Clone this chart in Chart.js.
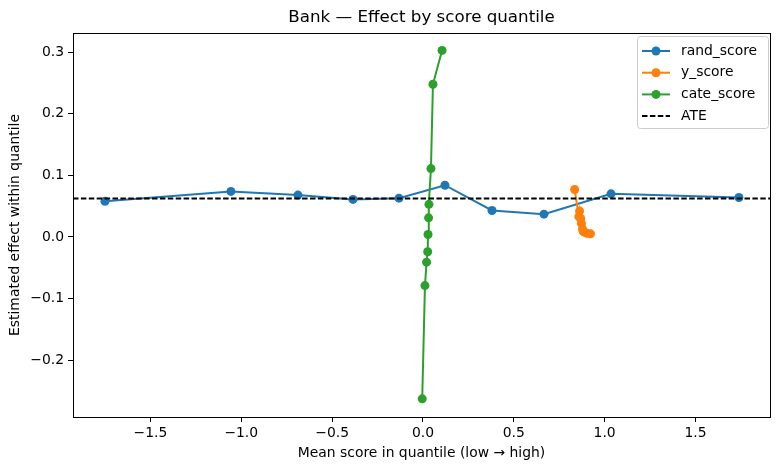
<!DOCTYPE html>
<html>
<head>
<meta charset="utf-8">
<script src="https://cdn.jsdelivr.net/npm/chart.js@4.4.1/dist/chart.umd.min.js"></script>
<style>
    body { margin: 0; background: #fff; }
    canvas { display: block; }
</style>
</head>
<body>
<canvas id="grafico" width="780" height="470"></canvas>
<script>
// valores
const randX = [-1.75, -1.057, -0.688, -0.385, -0.132, 0.121, 0.38, 0.666, 1.035, 1.739];
const randY = [0.058, 0.074, 0.068, 0.061, 0.063, 0.084, 0.043, 0.037, 0.070, 0.064];

const yScoreX = [0.835, 0.858, 0.862, 0.868, 0.872, 0.878, 0.882, 0.888, 0.902, 0.922];
const yScoreY = [0.077, 0.033, 0.042, 0.030, 0.022, 0.013, 0.009, 0.008, 0.006, 0.005];

const cateX = [-0.004, 0.011, 0.020, 0.026, 0.028, 0.031, 0.033, 0.044, 0.055, 0.105];
const cateY = [-0.263, -0.079, -0.041, -0.024, 0.004, 0.031, 0.053, 0.111, 0.248, 0.303];

const ateValue = 0.0625;

const xTicks = [-1.5, -1.0, -0.5, 0.0, 0.5, 1.0, 1.5];
const yTicks = [-0.2, -0.1, 0.0, 0.1, 0.2, 0.3];

const xMin = -1.926, xMax = 1.910;
const yMin = -0.2925, yMax = 0.3313;

const titulo = 'Bank \u2014 Effect by score quantile';
const fuente = 'DejaVu Sans';
const radio = 4.5;

function puntos(xs, ys) {
    return xs.map((x, i) => ({x: x, y: ys[i]}));
}

function etiqueta(v) {
    const s = Math.abs(v).toFixed(1);
    return v < -1e-9 ? '\u2212' + s : s;
}

function serie(label, xs, ys, color, orden) {
    return {
        label: label,
        data: puntos(xs, ys),
        showLine: true,
        borderColor: color,
        backgroundColor: color,
        borderWidth: 2,
        pointRadius: radio,
        pointHoverRadius: radio,
        pointBorderWidth: 0,
        order: orden
    };
}

// titulo centrado en el area, marco completo y leyenda al estilo matplotlib
const marcoYLeyenda = {
    id: 'marcoYLeyenda',
    afterDraw(chart) {
        const ctx = chart.ctx;
        const a = chart.chartArea;
        ctx.save();
        ctx.fillStyle = '#000';
        ctx.font = '16.7px "' + fuente + '"';
        ctx.textAlign = 'center';
        ctx.textBaseline = 'middle';
        ctx.fillText(titulo, (a.left + a.right) / 2, 18);

        ctx.strokeStyle = '#000';
        ctx.lineWidth = 1;
        ctx.strokeRect(Math.round(a.left) + 0.5, Math.round(a.top) + 0.5,
            Math.round(a.right - a.left), Math.round(a.bottom - a.top));

        const bx = 637, by = 36, bw = 131, bh = 92;
        ctx.beginPath();
        ctx.roundRect(bx + 0.5, by + 0.5, bw, bh, 3);
        ctx.fillStyle = 'rgba(255,255,255,0.8)';
        ctx.fill();
        ctx.strokeStyle = '#cccccc';
        ctx.stroke();

        ctx.font = '13.9px "' + fuente + '"';
        ctx.textAlign = 'left';
        chart.data.datasets.forEach((ds, i) => {
            const y = 51 + i * 21.7;
            ctx.beginPath();
            ctx.strokeStyle = ds.borderColor;
            ctx.lineWidth = 2;
            ctx.setLineDash(ds.borderDash || []);
            ctx.moveTo(642, y);
            ctx.lineTo(670, y);
            ctx.stroke();
            ctx.setLineDash([]);
            if (ds.pointRadius > 0) {
                ctx.beginPath();
                ctx.fillStyle = ds.borderColor;
                ctx.arc(656, y, radio, 0, Math.PI * 2);
                ctx.fill();
            }
            ctx.fillStyle = '#000';
            ctx.fillText(ds.label, 681, y);
        });
        ctx.restore();
    }
};

const ctx = document.getElementById('grafico').getContext('2d');

new Chart(ctx, {
    type: 'scatter',
    data: {
        datasets: [
            serie('rand_score', randX, randY, '#1f77b4', 4),
            serie('y_score', yScoreX, yScoreY, '#ff7f0e', 3),
            serie('cate_score', cateX, cateY, '#2ca02c', 2),
            {
                label: 'ATE',
                data: [{x: xMin, y: ateValue}, {x: xMax, y: ateValue}],
                showLine: true,
                borderColor: '#000',
                borderWidth: 2,
                borderDash: [5.5, 2.4],
                pointRadius: 0,
                pointHoverRadius: 0,
                order: 1
            }
        ]
    },
    options: {
        responsive: false,
        animation: false,
        layout: { padding: { top: 33, right: 10, bottom: 0, left: 0 } },
        plugins: {
            legend: { display: false },
            tooltip: { enabled: false },
            title: { display: false }
        },
        scales: {
            x: {
                type: 'linear',
                min: xMin,
                max: xMax,
                afterBuildTicks: axis => { axis.ticks = xTicks.map(v => ({value: v})); },
                afterFit: axis => { axis.height = 53; },
                grid: { display: true, drawOnChartArea: false, drawTicks: true, tickLength: 5, color: '#000' },
                border: { display: true, color: '#000', width: 1 },
                ticks: {
                    color: '#000',
                    padding: 3,
                    maxRotation: 0,
                    font: { family: fuente, size: 13.9 },
                    callback: v => etiqueta(v)
                },
                title: {
                    display: true,
                    text: 'Mean score in quantile (low \u2192 high)',
                    color: '#000',
                    font: { family: fuente, size: 13.9 },
                    padding: { top: 0, bottom: 8 }
                }
            },
            y: {
                type: 'linear',
                min: yMin,
                max: yMax,
                afterBuildTicks: axis => { axis.ticks = yTicks.map(v => ({value: v})); },
                afterFit: axis => { axis.width = 73; },
                grid: { display: true, drawOnChartArea: false, drawTicks: true, tickLength: 5, color: '#000' },
                border: { display: true, color: '#000', width: 1 },
                ticks: {
                    color: '#000',
                    padding: 4,
                    font: { family: fuente, size: 13.9 },
                    callback: v => etiqueta(v)
                },
                title: {
                    display: true,
                    text: 'Estimated effect within quantile',
                    color: '#000',
                    font: { family: fuente, size: 13.9 },
                    padding: { top: 7, bottom: 0 }
                }
            }
        }
    },
    plugins: [marcoYLeyenda]
});
</script>
</body>
</html>
